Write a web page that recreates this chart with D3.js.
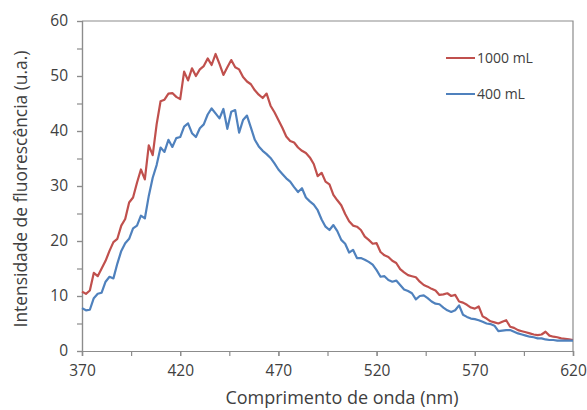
<!DOCTYPE html>
<html>
<head>
<meta charset="utf-8">
<script src="https://cdn.jsdelivr.net/npm/d3@7"></script>
<style>
  body { margin: 0; background: #fff; }
  text { font-family: "Open Sans", "Liberation Sans", sans-serif; fill: #404040; }
</style>
</head>
<body>
<div id="chart"></div>
<script>
// wavelengths sampled every 2 nm
const wavelengths = d3.range(370, 621, 2);

const series1000 = [
    10.8, 10.4, 11.0, 14.2, 13.6, 15.0, 16.4, 18.2, 19.8, 20.4,
    22.8, 24.0, 27.0, 27.9, 30.6, 33.0, 31.2, 37.4, 35.6, 41.2,
    45.4, 45.7, 46.8, 46.9, 46.2, 45.8, 50.8, 49.2, 51.4, 50.0,
    51.2, 51.8, 53.2, 52.0, 54.0, 52.2, 50.2, 51.6, 52.9, 51.6,
    51.2, 49.8, 49.0, 48.5, 47.4, 46.6, 46.0, 46.8, 44.6, 43.4,
    42.0, 40.6, 39.0, 38.2, 37.9, 37.0, 36.4, 36.0, 35.2, 34.0,
    31.8, 32.4, 30.8, 30.3, 28.4, 27.4, 26.5, 24.9, 23.6, 22.8,
    22.6, 22.0, 20.8, 20.2, 19.5, 19.6, 18.0, 17.4, 17.1, 16.4,
    16.0, 14.9, 14.3, 13.8, 13.6, 13.4, 12.6, 12.0, 11.7, 11.3,
    11.0, 10.2, 10.3, 10.5, 10.0, 10.2, 9.0, 8.8, 8.4, 7.9,
    7.7, 8.1, 6.3, 5.9, 5.4, 5.2, 5.0, 5.3, 5.6, 4.4,
    4.2, 3.8, 3.6, 3.4, 3.2, 3.0, 2.9, 3.0, 3.5, 2.8,
    2.6, 2.5, 2.3, 2.2, 2.1, 2.0
];

const series400 = [
    7.8, 7.4, 7.5, 9.6, 10.4, 10.6, 12.6, 13.5, 13.2, 15.9,
    18.2, 19.6, 20.4, 22.3, 22.8, 24.6, 24.1, 28.2, 31.5, 33.8,
    37.0, 36.2, 38.4, 37.1, 38.7, 38.9, 40.8, 41.4, 39.6, 38.9,
    40.5, 41.2, 43.0, 44.1, 43.2, 42.3, 44.0, 40.4, 43.5, 43.8,
    39.7, 42.0, 42.8, 40.6, 38.4, 37.2, 36.4, 35.8, 35.1, 34.1,
    33.0, 32.2, 31.4, 30.8, 29.8, 28.9, 29.6, 27.9, 27.2, 26.6,
    25.6, 23.9, 22.6, 22.0, 22.9, 21.8, 20.2, 19.5, 17.9, 18.4,
    16.9, 16.9, 16.6, 16.2, 15.7, 14.7, 13.5, 13.6, 12.9, 12.6,
    12.8, 12.0, 11.2, 10.9, 10.5, 9.4, 10.0, 10.1, 9.6, 9.0,
    8.6, 8.5, 7.9, 7.4, 7.1, 7.4, 8.3, 6.6, 6.2, 5.9,
    5.8, 5.6, 5.3, 5.0, 4.9, 4.6, 3.6, 3.7, 3.8, 3.8,
    3.5, 3.2, 3.0, 2.8, 2.6, 2.5, 2.3, 2.3, 2.1, 2.0,
    2.0, 1.9, 1.9, 1.9, 1.9, 1.9
];

const seriesNames = ["1000 mL", "400 mL"];
const seriesColors = ["#C0504D", "#4F81BD"];
const xTickLabels = [370, 420, 470, 520, 570, 620];
const yTickLabels = [0, 10, 20, 30, 40, 50, 60];

const margin = { top: 21, right: 14, bottom: 59, left: 82 };
const width = 587 - margin.left - margin.right;
const height = 410 - margin.top - margin.bottom;
const axisColor = "#8c8c8c";

const svg = d3.select("#chart")
    .append("svg")
    .attr("width", 587)
    .attr("height", 410)
    .append("g")
    .attr("transform", `translate(${margin.left},${margin.top})`);

const x = d3.scaleLinear().domain([370, 620]).range([0, width]);
const y = d3.scaleLinear().domain([0, 60]).range([height, 0]);

// plot border (top and right)
svg.append("path")
    .attr("d", `M0,0H${width}V${height}`)
    .attr("fill", "none")
    .attr("stroke", axisColor)
    .attr("stroke-width", 1.2);

// minor ticks every 5 units / 25 nm
svg.append("g")
    .attr("transform", `translate(0,${height})`)
    .call(d3.axisBottom(x).tickValues(d3.range(370, 621, 25)).tickSize(5).tickFormat(""));
svg.append("g")
    .call(d3.axisLeft(y).tickValues(d3.range(0, 61, 5)).tickSize(5).tickFormat(""));

// labelled ticks
svg.append("g")
    .attr("transform", `translate(0,${height})`)
    .call(d3.axisBottom(x).tickValues(xTickLabels).tickSize(5).tickPadding(9).tickFormat(d3.format("d")));
svg.append("g")
    .call(d3.axisLeft(y).tickValues(yTickLabels).tickSize(5).tickPadding(9).tickFormat(d3.format("d")));

svg.selectAll(".domain, .tick line")
    .attr("stroke", axisColor)
    .attr("stroke-width", 1.2);
svg.selectAll(".tick text")
    .style("font-size", "15.5px")
    .style("fill", "#404040");

// lines
const line = d3.line()
    .x((d, i) => x(wavelengths[i]))
    .y(d => y(d));

[series1000, series400].forEach((s, k) => {
    svg.append("path")
        .datum(s)
        .attr("fill", "none")
        .attr("stroke", seriesColors[k])
        .attr("stroke-width", 2.2)
        .attr("stroke-linejoin", "round")
        .attr("d", line);
});

// legend
const legend = svg.append("g").attr("transform", `translate(${446 - margin.left},${58 - margin.top})`);
seriesNames.forEach((name, k) => {
    const g = legend.append("g").attr("transform", `translate(0,${k * 36})`);
    g.append("line")
        .attr("x1", 0).attr("x2", 29)
        .attr("stroke", seriesColors[k])
        .attr("stroke-width", 2);
    g.append("text")
        .attr("x", 31)
        .attr("dy", "0.35em")
        .style("font-size", "14px")
        .text(name);
});

// axis titles
svg.append("text")
    .attr("x", 342 - margin.left)
    .attr("y", height + 53)
    .attr("text-anchor", "middle")
    .style("font-size", "18px")
    .text("Comprimento de onda (nm)");

svg.append("text")
    .attr("transform", "rotate(-90)")
    .attr("x", -(189 - margin.top))
    .attr("y", -margin.left + 27)
    .attr("text-anchor", "middle")
    .style("font-size", "17.4px")
    .text("Intensidade de fluorescência (u.a.)");
</script>
</body>
</html>
